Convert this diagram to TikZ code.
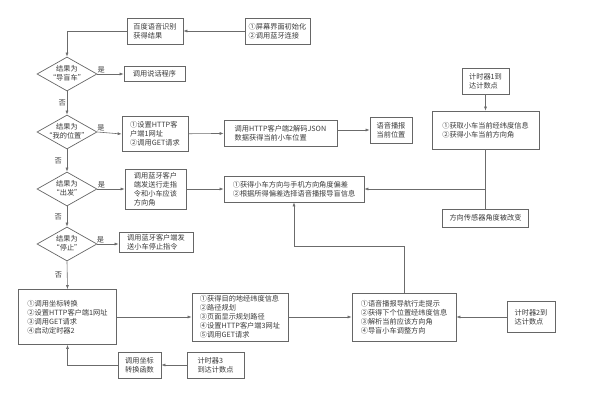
\documentclass[tikz,border=0pt]{standalone}
\usepackage{fontspec}
\setmainfont{Noto Sans CJK SC}
\usetikzlibrary{positioning,arrows.meta,shapes.geometric}
\definecolor{linegray}{HTML}{6B6B6B}
\definecolor{boxgray}{HTML}{666666}
\definecolor{inkgray}{HTML}{3A3A3A}
\newcommand{\condtext}[2]{\makebox[0pt]{\begin{tabular}{@{}c@{}}#1\\#2\end{tabular}}}

\begin{document}
\begin{tikzpicture}[x=1pt,y=-1pt,
 box/.style={draw=boxgray,line width=0.7pt,align=left,text=inkgray,
 font=\fontsize{7.2}{9}\selectfont,inner sep=2pt},
 cond/.style={diamond,draw=boxgray,line width=0.7pt,minimum width=60pt,
 minimum height=34pt,inner sep=0pt,text=inkgray,font=\fontsize{7.2}{8.6}\selectfont},
 lbl/.style={font=\fontsize{7.2}{9}\selectfont,text=inkgray,inner sep=1pt},
 ln/.style={draw=linegray,line width=0.6pt},
 arr/.style={ln,-{Latex[length=4pt,width=3pt]}}]
\useasboundingbox (0,0) rectangle (602,403);
\node[box,minimum width=56pt,minimum height=26pt] (asr) at (155,31) {百度语音识别\\获得结果};
\node[box,minimum width=65pt,minimum height=26pt] (init) at (277.5,31) {①屏幕界面初始化\\②调用蓝牙连接};
\node[cond] (d1) at (67,74) {\condtext{结果为}{“导盲车”}};
\node[box,minimum width=61pt,minimum height=15pt] (speak) at (154.5,74) {调用说话程序};
\node[cond] (d2) at (67,132) {\condtext{结果为}{“我的位置”}};
\node[box,minimum width=66pt,minimum height=35pt] (http1) at (155,134) {①设置HTTP客\\户端1网址\\②调用GET请求};
\node[box,minimum width=113pt,minimum height=26pt] (json) at (280.5,133) {调用HTTP客户端2解码JSON\\数据获得当前小车位置};
\node[box,minimum width=42pt,minimum height=26pt] (saypos) at (391,130) {语音播报\\当前位置};
\node[cond] (d3) at (67,189) {\condtext{结果为}{“出发”}};
\node[box,minimum width=61pt,minimum height=40pt] (btgo) at (155.5,189) {调用蓝牙客户\\端发送行走指\\令和小车应该\\方向角};
\node[box,minimum width=140pt,minimum height=26pt] (dev) at (294,189) {①获得小车方向与手机方向角度偏差\\②根据所得偏差选择语音播报导盲信息};
\node[cond] (d4) at (67,244) {\condtext{结果为}{“停止”}};
\node[box,minimum width=74pt,minimum height=19pt] (stop) at (156,242.5) {调用蓝牙客户端发\\送小车停止指令};
\node[box,minimum width=47pt,minimum height=26pt] (t1) at (485.5,81) {计时器1到\\达计数点};
\node[box,minimum width=107pt,minimum height=38pt] (getpos) at (485.5,130) {①获取小车当前经纬度信息\\②获得小车当前方向角};
\node[box,minimum width=86pt,minimum height=18pt] (sensor) at (485.5,218) {方向传感器角度被改变};
\node[box,minimum width=98pt,minimum height=55pt] (coord) at (67.5,317) {①调用坐标转换\\②设置HTTP客户端1网址\\③调用GET请求\\④启动定时器2};
\node[box,minimum width=96pt,minimum height=48pt] (route) at (240,317) {①获得目的地经纬度信息\\②路径规划\\③页面显示规划路径\\④设置HTTP客户端3网址\\⑤调用GET请求};
\node[box,minimum width=104pt,minimum height=48pt] (nav) at (404,317) {①语音播报导航行走提示\\②获得下个位置经纬度信息\\③解析当前应该方向角\\④导盲小车调整方向};
\node[box,minimum width=48pt,minimum height=31pt] (t2) at (531,317) {计时器2到\\达计数点};
\node[box,minimum width=43pt,minimum height=26pt] (conv) at (139.5,365) {调用坐标\\转换函数};
\node[box,minimum width=57pt,minimum height=26pt] (t3) at (215.5,365) {计时器3\\到达计数点};
\draw[arr] (init) -- (asr);
\draw[arr] (asr.west) -| (d1.north);
\draw[arr] (d1.east) -- node[lbl,pos=0.15,above] (y1) {是} (speak.west);
\draw[arr] (d1.south) -- node[lbl,left] (n1) {否} (d2.north);
\draw[arr] (d2.east) -- node[lbl,pos=0.15,above] (y2) {是} (http1.west);
\draw[arr] (http1) -- (json);
\draw[arr] (json.east |- saypos.west) -- (saypos.west);
\draw[arr] (d2.south) -- node[lbl,left,xshift=-4pt] (n2) {否} (d3.north);
\draw[arr] (d3.east) -- node[lbl,pos=0.15,above] (y3) {是} (btgo.west);
\draw[arr] (btgo) -- (dev);
\draw[arr] (d3.south) -- node[lbl,left,xshift=-4pt] (n3) {否} (d4.north);
\draw[arr] (d4.east) -- node[lbl,pos=0.15,above] (y4) {是} (stop.west |- d4.east);
\draw[arr] (d4.south) -- node[lbl,left,xshift=-4pt] (n4) {否} (coord.north);
\draw[arr] (coord) -- (route);
\draw[arr] (route) -- (nav);
\draw[arr] (t2) -- (nav);
\draw[arr] (t3) -- (conv);
\draw[arr] (conv.west) -| (coord.south);
\draw[arr] (t1) -- (getpos);
\draw[ln] (getpos) -- (sensor);
\coordinate (jn) at (getpos.south |- dev.east);
\draw[arr] (jn) -- (dev.east);
\draw[arr] (nav.north) -- ++(0,-46) -| (dev.south);
\end{tikzpicture}
\end{document}
